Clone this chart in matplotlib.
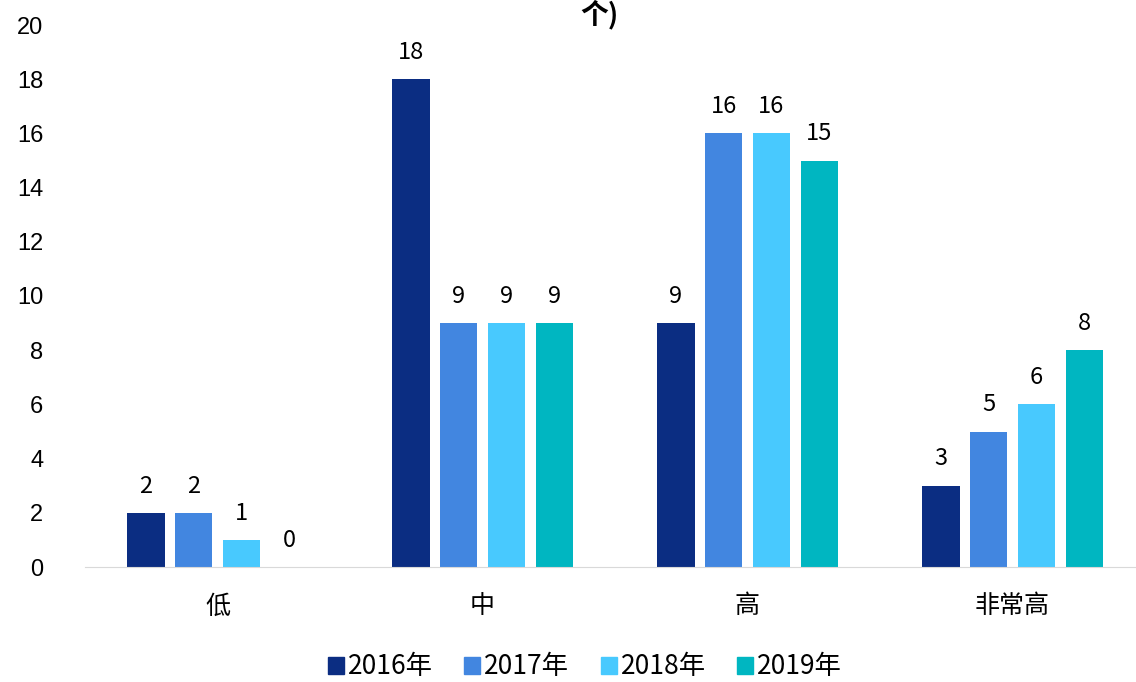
import matplotlib
matplotlib.use("Agg")
import matplotlib.pyplot as plt
import numpy as np
from matplotlib.patches import Patch

plt.rcParams['font.family'] = ['Noto Sans CJK SC', 'DejaVu Sans']

categories = ['低', '中', '高', '非常高']
years = ['2016年', '2017年', '2018年', '2019年']
v2016 = [2, 18, 9, 3]
v2017 = [2, 9, 16, 5]
v2018 = [1, 9, 16, 6]
v2019 = [0, 9, 15, 8]
colors = ['#0B2D82', '#4286E0', '#48C9FE', '#00B6C1']

series = [v2016, v2017, v2018, v2019]

fig = plt.figure(figsize=(11.36, 6.82), dpi=100)
ax = fig.add_axes([85/1136, 1-567/682, 1060/1136, (567-25)/682])

x = np.arange(len(categories))
step = 0.181
width = 0.143
for i, (vals, c) in enumerate(zip(series, colors)):
    pos = x + (i - 1.5) * step
    ax.bar(pos, vals, width, color=c, label=years[i])
    for xb, v in zip(pos, vals):
        ax.annotate(str(v), (xb, v), xytext=(0, 11), textcoords='offset points',
                    ha='center', va='bottom', fontsize=17, color='black')

ax.set_xlim(-0.5, 3.5)
ax.set_ylim(0, 20)
ax.set_yticks(range(0, 21, 2))
ax.set_xticks(x)
ax.set_xticklabels(categories, fontsize=18)
ax.tick_params(axis='x', length=0, pad=19)
ax.tick_params(axis='y', length=0, pad=30, labelsize=17)
for lbl in ax.get_yticklabels():
    lbl.set_family(['Liberation Sans', 'DejaVu Sans'])
for s in ['top', 'right', 'left']:
    ax.spines[s].set_visible(False)
ax.spines['bottom'].set_color('#D9D9D9')

handles = [Patch(color=c) for c in colors]
fig.legend(handles, years, loc='center', bbox_to_anchor=(0.515, 1-667/682),
           ncol=4, frameon=False, fontsize=19, handlelength=0.6, handleheight=0.6,
           handletextpad=0.15, columnspacing=1.2)

fig.text(0.528, 1.0, '个)', ha='center', va='top', fontsize=20, fontweight='bold')

fig.savefig('out.png', dpi=100)
